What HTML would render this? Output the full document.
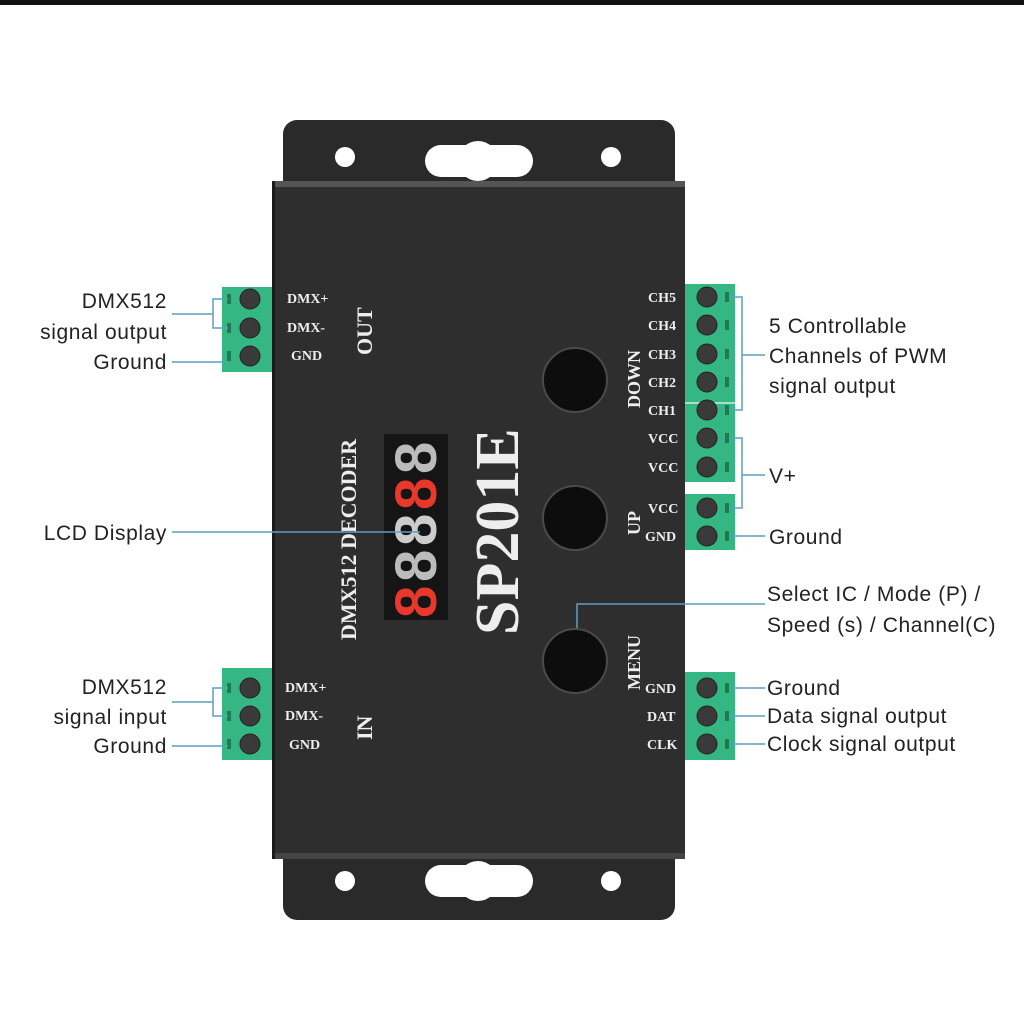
<!DOCTYPE html>
<html><head><meta charset="utf-8"><style>
html,body{margin:0;padding:0;background:#fff;}
svg{display:block}
.lbl{font-family:"Liberation Sans",sans-serif;font-size:21px;fill:#222;letter-spacing:0.6px;}
.dev{font-family:"Liberation Serif",serif;fill:#eee;font-weight:bold;}
</style></head><body>
<svg width="1024" height="1024" viewBox="0 0 1024 1024" xmlns="http://www.w3.org/2000/svg">
<rect x="0" y="0" width="1024" height="5" fill="#111"/>
<rect x="283" y="120" width="392" height="800" rx="14" fill="#2a2a2a"/>
<circle cx="345" cy="157" r="10" fill="#fff"/><circle cx="611" cy="157" r="10" fill="#fff"/>
<rect x="425" y="145" width="108" height="32" rx="16" fill="#fff"/><circle cx="478" cy="161" r="20" fill="#fff"/>
<circle cx="345" cy="881" r="10" fill="#fff"/><circle cx="611" cy="881" r="10" fill="#fff"/>
<rect x="425" y="865" width="108" height="32" rx="16" fill="#fff"/><circle cx="478" cy="881" r="20" fill="#fff"/>
<rect x="272" y="181" width="413" height="678" fill="#2e2e2e"/>
<rect x="272" y="181" width="413" height="6" fill="#555"/>
<rect x="272" y="853" width="413" height="6" fill="#444"/>
<rect x="272" y="181" width="3" height="678" fill="#1a1a1a"/>
<rect x="384" y="434" width="64" height="186" fill="#151515"/>
<g font-family="Liberation Sans,sans-serif" font-size="58" font-weight="bold" transform="translate(436,618) rotate(-90)">
<text x="0" y="0" fill="#e8382c">8</text><text x="36" y="0" fill="#bbb">8</text><text x="72" y="0" fill="#ccc">8</text><text x="108" y="0" fill="#e8382c">8</text><text x="144" y="0" fill="#bbb">8</text>
</g>
<text class="dev" font-size="22" font-weight="normal" transform="translate(356,640) rotate(-90)">DMX512 DECODER</text>
<text class="dev" font-size="62" font-weight="normal" transform="translate(518,635) rotate(-90)">SP201E</text>
<text class="dev" font-size="22" font-weight="normal" transform="translate(372,355) rotate(-90)">OUT</text>
<text class="dev" font-size="22" font-weight="normal" transform="translate(372,740) rotate(-90)">IN</text>
<text class="dev" font-size="18" transform="translate(640,408) rotate(-90)">DOWN</text>
<text class="dev" font-size="18" transform="translate(640,535) rotate(-90)">UP</text>
<text class="dev" font-size="18" transform="translate(640,690) rotate(-90)">MENU</text>
<g fill="#0d0d0d" stroke="#4a4a4a" stroke-width="2">
<circle cx="575" cy="380" r="32"/><circle cx="575" cy="518" r="32"/><circle cx="575" cy="661" r="32"/>
</g>
<g class="dev" font-size="14">
<text x="287" y="303">DMX+</text><text x="287" y="332">DMX-</text><text x="291" y="360">GND</text>
<text x="285" y="692">DMX+</text><text x="285" y="720">DMX-</text><text x="289" y="749">GND</text>
<text x="648" y="302">CH5</text><text x="648" y="330">CH4</text><text x="648" y="359">CH3</text><text x="648" y="387">CH2</text><text x="648" y="415">CH1</text>
<text x="648" y="443">VCC</text><text x="648" y="472">VCC</text><text x="648" y="513">VCC</text><text x="645" y="541">GND</text>
<text x="645" y="693">GND</text><text x="647" y="721">DAT</text><text x="647" y="749">CLK</text>
</g>
<g fill="#35b783">
<rect x="222" y="287" width="50" height="85"/><rect x="222" y="668" width="50" height="92"/>
<rect x="685" y="284" width="50" height="198"/><rect x="685" y="494" width="50" height="56"/><rect x="685" y="672" width="50" height="88"/>
</g>
<line x1="685" y1="403" x2="735" y2="403" stroke="#cfeee0" stroke-width="1.5"/>
<g fill="#3a3a3a" stroke="#222">
<circle cx="250" cy="299" r="10"/><circle cx="250" cy="328" r="10"/><circle cx="250" cy="356" r="10"/>
<circle cx="250" cy="688" r="10"/><circle cx="250" cy="716" r="10"/><circle cx="250" cy="744" r="10"/>
<circle cx="707" cy="297" r="10"/><circle cx="707" cy="325" r="10"/><circle cx="707" cy="354" r="10"/><circle cx="707" cy="382" r="10"/><circle cx="707" cy="410" r="10"/><circle cx="707" cy="438" r="10"/><circle cx="707" cy="467" r="10"/>
<circle cx="707" cy="508" r="10"/><circle cx="707" cy="536" r="10"/>
<circle cx="707" cy="688" r="10"/><circle cx="707" cy="716" r="10"/><circle cx="707" cy="744" r="10"/>
</g>
<g fill="#1f7a52">
<rect x="227" y="294" width="4" height="10"/><rect x="227" y="323" width="4" height="10"/><rect x="227" y="351" width="4" height="10"/>
<rect x="227" y="683" width="4" height="10"/><rect x="227" y="711" width="4" height="10"/><rect x="227" y="739" width="4" height="10"/>
<rect x="725" y="292" width="4" height="10"/><rect x="725" y="320" width="4" height="10"/><rect x="725" y="349" width="4" height="10"/><rect x="725" y="377" width="4" height="10"/><rect x="725" y="405" width="4" height="10"/><rect x="725" y="433" width="4" height="10"/><rect x="725" y="462" width="4" height="10"/>
<rect x="725" y="503" width="4" height="10"/><rect x="725" y="531" width="4" height="10"/>
<rect x="725" y="683" width="4" height="10"/><rect x="725" y="711" width="4" height="10"/><rect x="725" y="739" width="4" height="10"/>
</g>
<g stroke="#5a9fc4" stroke-width="1.5" fill="none">
<path d="M172 314 H213 M228 299 H213 V328 H228"/><path d="M172 362 H228"/>
<path d="M172 702 H213 M228 688 H213 V716 H228"/><path d="M172 746 H228"/>
<path d="M172 532 H420"/>
<path d="M729 297 H742 V410 H729 M742 355 H765"/>
<path d="M729 438 H742 V508 H729 M742 475 H765"/>
<path d="M729 536 H765"/>
<path d="M577 628 V604 H765"/>
<path d="M729 688 H765 M729 716 H765 M729 744 H765"/>
</g>
<g class="lbl" text-anchor="end">
<text x="167" y="308">DMX512</text><text x="167" y="339">signal output</text><text x="167" y="369">Ground</text>
<text x="167" y="540">LCD Display</text>
<text x="167" y="694">DMX512</text><text x="167" y="724">signal input</text><text x="167" y="753">Ground</text>
</g>
<g class="lbl">
<text x="769" y="333">5 Controllable</text><text x="769" y="363">Channels of PWM</text><text x="769" y="393">signal output</text>
<text x="769" y="483">V+</text><text x="769" y="544">Ground</text>
<text x="767" y="601">Select IC / Mode (P) /</text><text x="767" y="632">Speed (s) / Channel(C)</text>
<text x="767" y="695">Ground</text><text x="767" y="723">Data signal output</text><text x="767" y="751">Clock signal output</text>
</g>
</svg>
</body></html>
